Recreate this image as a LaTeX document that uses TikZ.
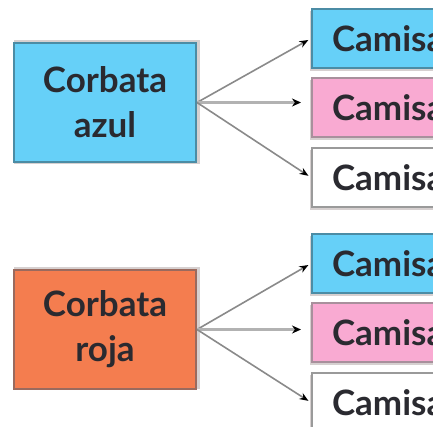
\documentclass[tikz,border=0pt]{standalone}
\usepackage{fontspec}
\setmainfont{Lato}
\usetikzlibrary{arrows.meta}
\definecolor{bluefill}{HTML}{66D0F8}
\definecolor{blueline}{HTML}{4B8CA5}
\definecolor{pinkfill}{HTML}{F9AAD2}
\definecolor{pinkline}{HTML}{A8909C}
\definecolor{orangefill}{HTML}{F47D4F}
\definecolor{orangeline}{HTML}{9A6A5E}
\definecolor{greyline}{HTML}{9A9A9A}
\definecolor{txt}{HTML}{2A2A30}
\definecolor{arrowgrey}{HTML}{8A8A8A}
\definecolor{shadowgrey}{HTML}{D6D0D0}
\begin{document}
\begin{tikzpicture}[x=1pt,y=-1pt,
  tiebox/.style={draw, line width=2pt, minimum width=182pt, minimum height=119pt,
    align=center, inner sep=0pt, text=txt,
    font=\fontsize{35}{45}\selectfont\bfseries},
  shirt/.style={draw, line width=2pt, anchor=north west, minimum height=59pt,
    text width=130pt, align=left, inner xsep=20pt, inner ysep=0pt, text=txt,
    font=\fontsize{35}{40}\selectfont\bfseries},
  shade/.style={fill=shadowgrey, draw=none},
  arr/.style={draw=arrowgrey, line width=1.6pt, -{Stealth[length=9pt,width=7pt,black]}},
  arrmid/.style={draw=black!30, line width=3pt, -{Stealth[length=9pt,width=8pt,black]}}
]
\useasboundingbox (0,0) rectangle (433,426);
\clip (0,0) rectangle (433,426);

% shadows
\fill[shade] (14,40) rectangle (200,164);
\fill[shade] (14,267) rectangle (200,389);
\foreach \y in {8,77,147,233,302,372}{
  \fill[shade] (310,\y+3) rectangle (433,\y+63);
}

% top group
\node[tiebox, fill=bluefill, draw=blueline] (t1) at (105,102.5) {Corbata\\azul};
\node[shirt, fill=bluefill, draw=blueline] (s1a) at (311,8) {Camisa};
\node[shirt, fill=pinkfill, draw=pinkline] (s1b) at (311,77) {Camisa};
\node[shirt, fill=white, draw=greyline] (s1c) at (311,147) {Camisa};
\draw[arr, shorten >=3pt] (t1.east) -- (s1a.west);
\draw[arrmid, shorten >=10pt] (t1.east) -- (t1.east -| s1b.west);
\draw[arr, shorten >=3pt] (t1.east) -- (s1c.west);

% bottom group
\node[tiebox, fill=orangefill, draw=orangeline] (t2) at (105,329.5) {Corbata\\roja};
\node[shirt, fill=bluefill, draw=blueline] (s2a) at (311,233) {Camisa};
\node[shirt, fill=pinkfill, draw=pinkline] (s2b) at (311,302) {Camisa};
\node[shirt, fill=white, draw=greyline] (s2c) at (311,372) {Camisa};
\draw[arr, shorten >=3pt] (t2.east) -- (s2a.west);
\draw[arrmid, shorten >=10pt] (t2.east) -- (t2.east -| s2b.west);
\draw[arr, shorten >=3pt] (t2.east) -- (s2c.west);
\end{tikzpicture}
\end{document}
